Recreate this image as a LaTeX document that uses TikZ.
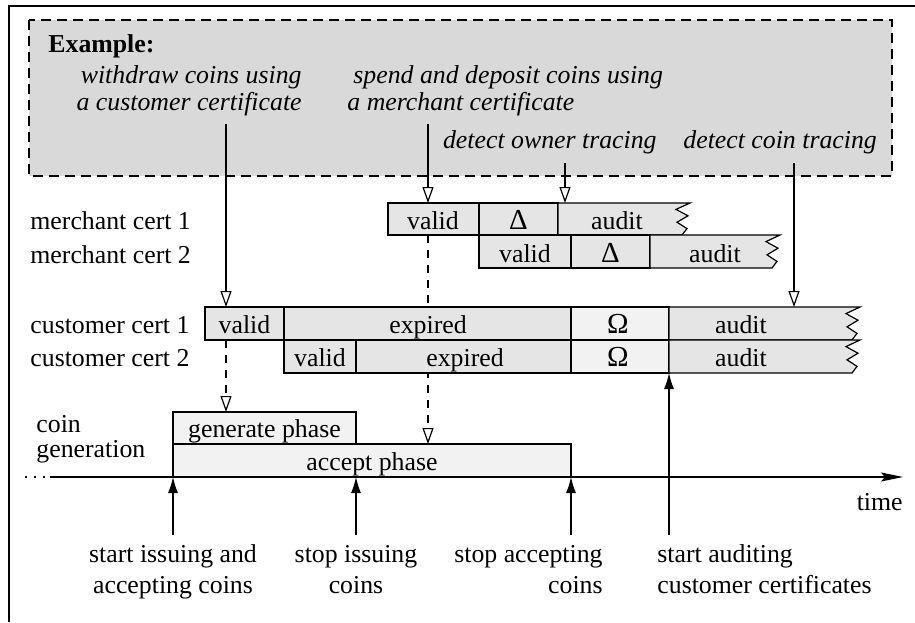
\documentclass[tikz,border=0pt]{standalone}
\usepackage{fontspec}
\setmainfont{Liberation Serif}
\usetikzlibrary{arrows.meta}
\newcommand\fsz{\fontsize{12.9pt}{15pt}\selectfont}
\newcommand\gsz{\fontsize{14.5pt}{15pt}\selectfont}
\newcommand\zigcell[5]{%
  \draw[#5] (#1,#3) -- (#2,#3) -- ({#2-14},{#3+0.2*(#4-#3)}) -- ({#2-2},{#3+0.4*(#4-#3)})
    -- ({#2-13},{#3+0.6*(#4-#3)}) -- ({#2-3},{#3+0.8*(#4-#3)}) -- ({#2-8},#4) -- (#1,#4) -- cycle;}
\begin{document}
\begin{tikzpicture}[x=0.5pt,y=-0.5pt,
  every node/.style={font=\fsz, inner sep=0pt},
  ln/.style={line width=0.6pt},
  cell/.style={draw, line width=0.6pt, fill=gray!20},
  lightcell/.style={draw, line width=0.6pt, fill=gray!10},
  openarrow/.style={line width=0.6pt, -{Triangle[length=8pt,width=5.5pt,fill=white]}},
  dasharrow/.style={openarrow, dash pattern=on 4pt off 3.5pt},
  filledarrow/.style={line width=0.6pt, -{Latex[length=8pt,width=5pt]}},
  lbl/.style={anchor=base},
  greek/.style={anchor=base, font=\gsz}
]
\useasboundingbox (0,0) rectangle (915,622);
% outer frame (cropped)
\draw[ln] (915,6) -- (9,6) -- (9,622);
% example box
\draw[fill=gray!30, dash pattern=on 5pt off 3pt, line width=0.6pt] (29,20) rectangle (892,176);

% named coordinates
\coordinate (wdS) at (226,124);
\coordinate (wdE) at (226,307);
\coordinate (wdD) at (226,340);
\coordinate (genT) at (226,412);
\coordinate (spS) at (428,124);
\coordinate (spE) at (428,203);
\coordinate (spD) at (428,235);
\coordinate (accT) at (428,444);
\coordinate (owS) at (565,163);
\coordinate (owE) at (565,203);
\coordinate (ctS) at (794,163);
\coordinate (ctE) at (794,307);

% dashed connectors (behind boxes)
\draw[dasharrow] (spD) -- (accT);
\draw[dasharrow] (wdD) -- (genT);

% merchant cert 1
\draw[cell] (388,203) rectangle (479,235);
\draw[cell] (479,203) rectangle (558,235);
\zigcell{558}{690}{203}{235}{cell}
% merchant cert 2
\draw[cell] (479,235) rectangle (571,268);
\draw[cell] (571,235) rectangle (650,268);
\zigcell{650}{780}{235}{268}{cell}
% customer cert 1
\draw[cell] (205,307) rectangle (284,340);
\draw[cell] (284,307) rectangle (571,340);
\draw[lightcell] (571,307) rectangle (669,340);
\zigcell{669}{860}{307}{340}{cell}
% customer cert 2
\draw[cell] (284,340) rectangle (356,373);
\draw[cell] (356,340) rectangle (571,373);
\draw[lightcell] (571,340) rectangle (669,373);
\zigcell{669}{860}{340}{373}{cell}
% coin generation
\draw[lightcell] (173,412) rectangle (356,444);
\draw[lightcell] (173,444) rectangle (571,477);

% solid open arrows
\draw[openarrow] (wdS) -- (wdE);
\draw[openarrow] (spS) -- (spE);
\draw[openarrow] (owS) -- (owE);
\draw[openarrow] (ctS) -- (ctE);

% time axis
\coordinate (axL) at (25,477);
\coordinate (axM) at (50,477);
\coordinate (axR) at (903,477);
\draw[line width=0.8pt, dash pattern=on 0.9pt off 3.6pt] (axL) -- (axM);
\draw[ln, -{Stealth[length=11pt,width=4.5pt,inset=2pt]}] (axM) -- (axR);

% up arrows
\coordinate (u1s) at (173,535); \coordinate (u1e) at (173,477);
\coordinate (u2s) at (356,535); \coordinate (u2e) at (356,477);
\coordinate (u3s) at (571,535); \coordinate (u3e) at (571,477);
\coordinate (u4s) at (669,535); \coordinate (u4e) at (669,373);
\draw[filledarrow] (u1s) -- (u1e);
\draw[filledarrow] (u2s) -- (u2e);
\draw[filledarrow] (u3s) -- (u3e);
\draw[filledarrow] (u4s) -- (u4e);

% texts in example box
\node[anchor=base west, font=\fsz\bfseries] (ex) at (48,52) {Example:};
\node[anchor=base east] (w1) at (302,83) {\itshape withdraw coins using};
\node[anchor=base east] (w2) at (302,110) {\itshape a customer certificate};
\node[anchor=base west] (s1) at (353,83) {\itshape spend and deposit coins using};
\node[anchor=base west] (s2) at (347,110) {\itshape a merchant certificate};
\node[anchor=base east] (ow) at (657,148) {\itshape detect owner tracing};
\node[anchor=base west] (ct) at (683,148) {\itshape detect coin tracing};

% row labels
\node[anchor=base west] (lm1) at (30,229) {merchant cert 1};
\node[anchor=base west] (lm2) at (30,263) {merchant cert 2};
\node[anchor=base west] (lc1) at (30,333) {customer cert 1};
\node[anchor=base west] (lc2) at (30,366) {customer cert 2};
\node[anchor=base west] (lg1) at (36,432) {coin};
\node[anchor=base west] (lg2) at (36,457) {generation};

% cell texts
\node[lbl] (m1v) at (433,229) {valid};
\node[greek] (m1d) at (518.5,229) {Δ};
\node[lbl] (m1a) at (617,229) {audit};
\node[lbl] (m2v) at (525,262) {valid};
\node[greek] (m2d) at (610.5,262) {Δ};
\node[lbl] (m2a) at (715,262) {audit};
\node[lbl] (c1v) at (244.5,333) {valid};
\node[lbl] (c1e) at (428,333) {expired};
\node[greek] (c1o) at (618,333) {Ω};
\node[lbl] (c1a) at (741,333) {audit};
\node[lbl] (c2v) at (320,366) {valid};
\node[lbl] (c2e) at (465,366) {expired};
\node[greek] (c2o) at (618,366) {Ω};
\node[lbl] (c2a) at (741,366) {audit};
\node[lbl] (gp) at (264.5,437) {generate phase};
\node[lbl] (ap) at (372,470) {accept phase};

\node[anchor=base east] (time) at (903,510) {time};

% bottom labels
\node[lbl] (b1a) at (173,562) {start issuing and};
\node[lbl] (b1b) at (173,593) {accepting coins};
\node[lbl] (b2a) at (356,562) {stop issuing};
\node[lbl] (b2b) at (356,593) {coins};
\node[anchor=base east] (b3a) at (603,562) {stop accepting};
\node[anchor=base east] (b3b) at (603,593) {coins};
\node[anchor=base west] (b4a) at (657,562) {start auditing};
\node[anchor=base west] (b4b) at (657,593) {customer certificates};
\end{tikzpicture}
\end{document}
